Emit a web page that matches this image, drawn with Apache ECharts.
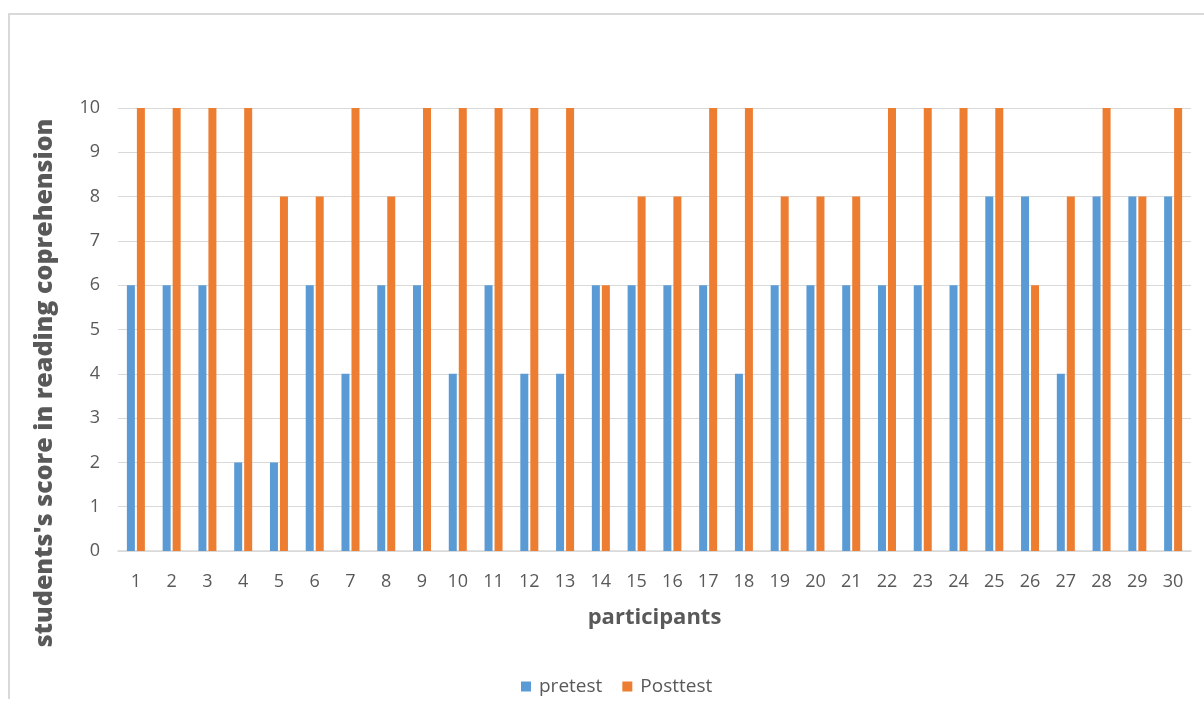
<!DOCTYPE html>
<html><head><meta charset="utf-8">
<script src="https://cdn.jsdelivr.net/npm/echarts@6/dist/echarts.min.js"></script>
<style>html,body{margin:0;padding:0;background:#fff}#c{width:1204px;height:713px}
#frame{position:absolute;left:8px;top:13px;width:1300px;height:684px;border-left:2px solid #d9d9d9;border-top:2px solid #d9d9d9;pointer-events:none}</style>
</head><body><div id="c"></div><div id="frame"></div>
<script>
const categories = ['1','2','3','4','5','6','7','8','9','10','11','12','13','14','15','16','17','18','19','20','21','22','23','24','25','26','27','28','29','30'];
const pretest = [6,6,6,2,2,6,4,6,6,4,6,4,4,6,6,6,6,4,6,6,6,6,6,6,8,8,4,8,8,8];
const posttest = [10,10,10,10,8,8,10,8,10,10,10,10,10,6,8,8,10,10,8,8,8,10,10,10,10,6,8,10,8,10];
const yTitle = "students's score in reading coprehension";
const font = '"Open Sans", "Noto Sans", sans-serif';
const chart = echarts.init(document.getElementById('c'));
chart.setOption({
  animation:false,
  grid:{left:118,right:13,top:108,bottom:162},
  legend:{bottom:12,left:516,itemWidth:10,itemHeight:10,itemGap:20,icon:'rect',
    textStyle:{color:'#595959',fontSize:19,fontFamily:font,padding:[0,0,0,3]},data:['pretest','Posttest']},
  graphic:[{type:'text',x:45,y:383,rotation:Math.PI/2,
    style:{text:yTitle,fill:'#595959',font:'800 25px '+font,align:'center',verticalAlign:'middle'}}],
  xAxis:{type:'category',data:categories,
    name:'participants',nameLocation:'middle',nameGap:56,
    nameTextStyle:{color:'#595959',fontSize:22,fontWeight:'bold',fontFamily:font},
    axisLine:{lineStyle:{color:'#d9d9d9',width:1.5}},axisTick:{show:false},
    axisLabel:{color:'#595959',fontSize:18,fontFamily:font,margin:22}},
  yAxis:{type:'value',min:0,max:10,interval:1,
    axisLine:{show:false},axisTick:{show:false},
    splitLine:{lineStyle:{color:'#d9d9d9',width:1.2}},
    axisLabel:{color:'#595959',fontSize:18,fontFamily:font,margin:18}},
  series:[
    {name:'pretest',type:'bar',data:pretest,barWidth:8,barGap:'25%',itemStyle:{color:'#5B9BD5'}},
    {name:'Posttest',type:'bar',data:posttest,barWidth:8,barGap:'25%',itemStyle:{color:'#ED7D31'}}
  ]
});
</script></body></html>
